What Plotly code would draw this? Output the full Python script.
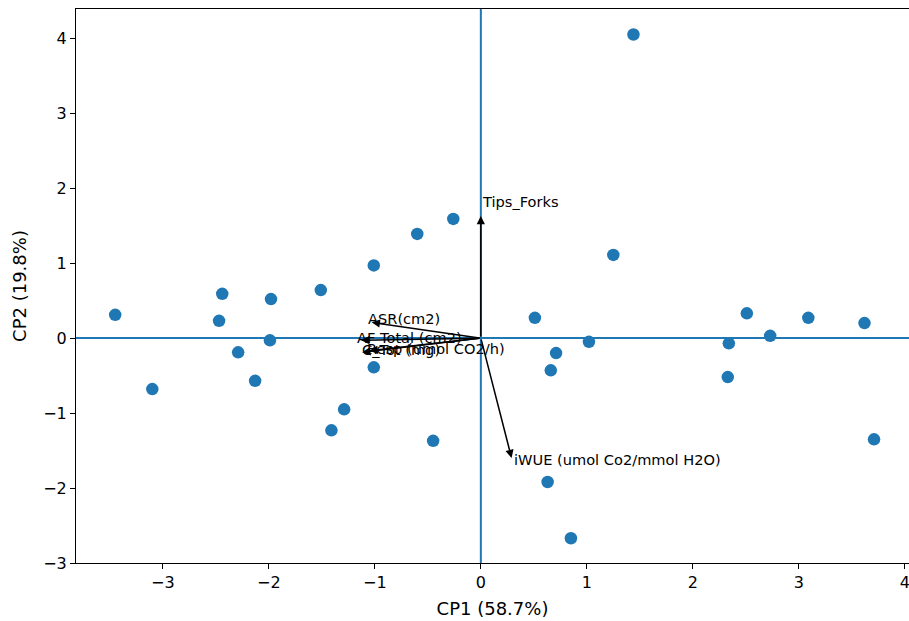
import plotly.graph_objects as go

# PCA scores (CP1, CP2)
cp1 = [1.44, -3.45, -3.10, -2.44, -2.47, -2.29, -2.13, -1.98, -1.99, -1.51,
       -1.29, -1.41, -1.01, -1.01, -0.60, -0.26, -0.45, 0.51, 0.71, 0.66,
       1.02, 1.25, 0.63, 0.85, 2.51, 2.34, 2.33, 2.73, 3.09, 3.62, 3.71]
cp2 = [4.05, 0.31, -0.68, 0.59, 0.23, -0.19, -0.57, 0.52, -0.03, 0.64,
       -0.95, -1.23, 0.97, -0.39, 1.39, 1.59, -1.37, 0.27, -0.20, -0.43,
       -0.05, 1.11, -1.92, -2.67, 0.33, -0.07, -0.52, 0.03, 0.27, 0.20, -1.35]

# Loadings (arrow tips)
var_names = ["Tips_Forks", "iWUE (umol Co2/mmol H2O)", "ASR(cm2)",
             "AF Total (cm2)", "C_Tot (mg)", "Resp (umol CO2/h)"]
load_x = [0.0, 0.29, -1.03, -1.13, -1.12, -1.05]
load_y = [1.63, -1.60, 0.21, -0.03, -0.19, -0.17]

x_label = "CP1 (58.7%)"
y_label = "CP2 (19.8%)"
x_ticks = [-3, -2, -1, 0, 1, 2, 3, 4]
y_ticks = [-3, -2, -1, 0, 1, 2, 3, 4]
tick_text = ["\u22123", "\u22122", "\u22121", "0", "1", "2", "3", "4"]

BLUE = "#1f77b4"
FONT = "DejaVu Sans"

fig = go.Figure()
fig.add_trace(go.Scatter(x=cp1, y=cp2, mode="markers",
                         marker=dict(color=BLUE, size=12.5), showlegend=False,
                         cliponaxis=False))

# zero lines
fig.add_hline(y=0, line=dict(color=BLUE, width=2), layer="below")
fig.add_vline(x=0, line=dict(color=BLUE, width=2), layer="below")

# label pixel offsets (style)
shifts = [(-1, 14), (0, -1), (-6, 4), (-6, 3), (-2, 3), (-5, 2)]

for name, lx, ly, (sx, sy) in zip(var_names, load_x, load_y, shifts):
    fig.add_annotation(x=lx, y=ly, ax=0, ay=0, xref="x", yref="y",
                       axref="x", ayref="y", text="", showarrow=True,
                       arrowhead=2, arrowsize=1.1, arrowwidth=1.5,
                       arrowcolor="black")
    fig.add_annotation(x=lx, y=ly, xref="x", yref="y", text=name,
                       showarrow=False, xanchor="left", yanchor="middle",
                       xshift=sx, yshift=sy,
                       font=dict(family=FONT, size=14.6, color="black"))

axis_common = dict(showgrid=False, zeroline=False, showline=True,
                   linecolor="black", linewidth=1, ticks="outside",
                   ticklen=5, tickwidth=1, tickcolor="black",
                   automargin=False, ticklabeloverflow="allow",
                   tickfont=dict(family=FONT, size=16, color="black"))

fig.update_layout(
    width=909, height=621,
    margin=dict(l=76, r=0, t=9, b=58),
    plot_bgcolor="white", paper_bgcolor="white",
    xaxis=dict(range=[-3.82, 4.04], tickvals=x_ticks, ticktext=tick_text,
               mirror=True,
               title=dict(text=x_label, font=dict(family=FONT, size=18, color="black"),
                          standoff=11),
               **axis_common),
    yaxis=dict(range=[-3.0, 4.39], tickvals=y_ticks, ticktext=tick_text,
               title=dict(text=y_label, font=dict(family=FONT, size=18, color="black"),
                          standoff=11),
               **axis_common),
)

fig.write_html("out.html", config={"displayModeBar": False},
               post_script="document.body.style.margin='0';document.body.style.overflow='hidden';")
